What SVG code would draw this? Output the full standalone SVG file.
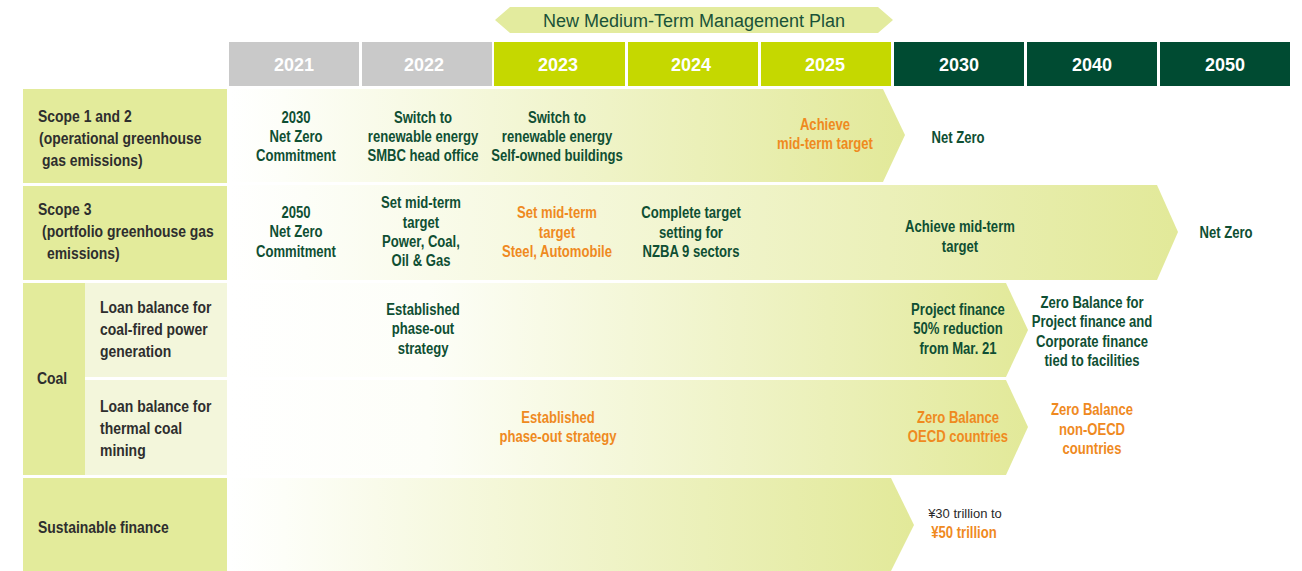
<svg xmlns="http://www.w3.org/2000/svg" width="1302" height="571" viewBox="0 0 1302 571">
<defs>
<linearGradient id="g1" x1="0" y1="0" x2="1" y2="0">
<stop offset="0" stop-color="#ffffff"/>
<stop offset="0.08" stop-color="#fdfef8"/>
<stop offset="1" stop-color="#e2e999"/>
</linearGradient>
<linearGradient id="g2" x1="0" y1="0" x2="1" y2="0">
<stop offset="0" stop-color="#ffffff"/>
<stop offset="0.25" stop-color="#fdfef8"/>
<stop offset="1" stop-color="#e2e999"/>
</linearGradient>
<style>
.t{font-family:"Liberation Sans",Arial,sans-serif;font-weight:bold;font-size:17px;text-anchor:middle;transform-box:fill-box;transform-origin:center;transform:scaleX(0.77)}
.g{fill:#0f4f33}
.o{fill:#ef8a1f}
.l{font-family:"Liberation Sans",Arial,sans-serif;font-weight:bold;font-size:17px;fill:#2e2e2e;transform-box:fill-box;transform-origin:left center;transform:scaleX(0.82)}
.yr{font-family:"Liberation Sans",Arial,sans-serif;font-weight:bold;font-size:18px;fill:#ffffff;text-anchor:middle}
.lab{fill:#e3eb9b}
.sub{fill:#f3f6db}
</style>
</defs>

<g id="banner">
<polygon points="495,20 510,7 878,7 893,20 878,33 510,33" fill="#e3eb9e"/>
<text x="694" y="27" style="font-family:'Liberation Sans',Arial,sans-serif;font-size:18px;fill:#1a5238;text-anchor:middle">New Medium-Term Management Plan</text>
</g>

<g id="years">
<rect x="229" y="42" width="130" height="44" fill="#c9c9c9"/>
<rect x="362" y="42" width="130" height="44" fill="#c9c9c9"/>
<rect x="494" y="42" width="131" height="44" fill="#c5d800"/>
<rect x="628" y="42" width="130" height="44" fill="#c5d800"/>
<rect x="761" y="42" width="130" height="44" fill="#c5d800"/>
<rect x="894" y="42" width="130" height="44" fill="#004b32"/>
<rect x="1027" y="42" width="130" height="44" fill="#004b32"/>
<rect x="1160" y="42" width="130" height="44" fill="#004b32"/>
<text class="yr" x="294" y="71">2021</text>
<text class="yr" x="424" y="71">2022</text>
<text class="yr" x="558" y="71">2023</text>
<text class="yr" x="691" y="71">2024</text>
<text class="yr" x="825" y="71">2025</text>
<text class="yr" x="959" y="71">2030</text>
<text class="yr" x="1092" y="71">2040</text>
<text class="yr" x="1225" y="71">2050</text>
</g>

<g id="connectors">
<polygon points="229,89 883,89 905,135 883,182 229,182" fill="url(#g1)"/>
<polygon points="229,185 1157,185 1178,232 1157,280 229,280" fill="url(#g1)"/>
<polygon points="229,283 1006,283 1028,330 1006,377 229,377" fill="url(#g2)"/>
<polygon points="229,380 1006,380 1028,427 1006,475 229,475" fill="url(#g2)"/>
<polygon points="229,478 891,478 914,525 891,571 229,571" fill="url(#g1)"/>
</g>

<g id="label-scope12">
<rect class="lab" x="23" y="89" width="204" height="94"/>
<text class="l" x="38" y="122">Scope 1 and 2</text>
<text class="l" x="39" y="144">(operational greenhouse</text>
<text class="l" x="42" y="166">gas emissions)</text>
</g>
<g id="label-scope3">
<rect class="lab" x="23" y="186" width="204" height="94"/>
<text class="l" x="38" y="215">Scope 3</text>
<text class="l" x="42" y="237">(portfolio greenhouse gas</text>
<text class="l" x="47" y="259">emissions)</text>
</g>
<g id="label-coal">
<rect class="lab" x="23" y="283" width="62" height="192"/>
<text class="l" x="37" y="384">Coal</text>
</g>
<g id="label-coal-power">
<rect class="sub" x="85" y="283" width="142" height="94"/>
<text class="l" x="100" y="313">Loan balance for</text>
<text class="l" x="100" y="335">coal-fired power</text>
<text class="l" x="100" y="357">generation</text>
</g>
<g id="label-coal-mining">
<rect class="sub" x="85" y="380" width="142" height="95"/>
<text class="l" x="100" y="412">Loan balance for</text>
<text class="l" x="100" y="434">thermal coal</text>
<text class="l" x="100" y="456">mining</text>
</g>
<g id="label-sustainable">
<rect class="lab" x="23" y="478" width="204" height="93"/>
<text class="l" x="38" y="533">Sustainable finance</text>
</g>

<g id="scope12-items">
<text class="t g" x="296" y="123">2030</text>
<text class="t g" x="296" y="142">Net Zero</text>
<text class="t g" x="296" y="161">Commitment</text>
<text class="t g" x="423" y="123">Switch to</text>
<text class="t g" x="423" y="142">renewable energy</text>
<text class="t g" x="423" y="161">SMBC head office</text>
<text class="t g" x="557" y="123">Switch to</text>
<text class="t g" x="557" y="142">renewable energy</text>
<text class="t g" x="557" y="161">Self-owned buildings</text>
<text class="t o" x="825" y="130">Achieve</text>
<text class="t o" x="825" y="149">mid-term target</text>
<text class="t g" x="958" y="143">Net Zero</text>
</g>

<g id="scope3-items">
<text class="t g" x="296" y="218">2050</text>
<text class="t g" x="296" y="237">Net Zero</text>
<text class="t g" x="296" y="257">Commitment</text>
<text class="t g" x="421" y="208">Set mid-term</text>
<text class="t g" x="421" y="228">target</text>
<text class="t g" x="421" y="247">Power, Coal,</text>
<text class="t g" x="421" y="266">Oil &amp; Gas</text>
<text class="t o" x="557" y="218">Set mid-term</text>
<text class="t o" x="557" y="238">target</text>
<text class="t o" x="557" y="257">Steel, Automobile</text>
<text class="t g" x="691" y="218">Complete target</text>
<text class="t g" x="691" y="238">setting for</text>
<text class="t g" x="691" y="257">NZBA 9 sectors</text>
<text class="t g" x="960" y="232">Achieve mid-term</text>
<text class="t g" x="960" y="252">target</text>
<text class="t g" x="1226" y="238">Net Zero</text>
</g>

<g id="coal-power-items">
<text class="t g" x="423" y="315">Established</text>
<text class="t g" x="423" y="334">phase-out</text>
<text class="t g" x="423" y="354">strategy</text>
<text class="t g" x="958" y="315">Project finance</text>
<text class="t g" x="958" y="334">50% reduction</text>
<text class="t g" x="958" y="354">from Mar. 21</text>
<text class="t g" x="1092" y="308">Zero Balance for</text>
<text class="t g" x="1092" y="327">Project finance and</text>
<text class="t g" x="1092" y="347">Corporate finance</text>
<text class="t g" x="1092" y="366">tied to facilities</text>
</g>

<g id="coal-mining-items">
<text class="t o" x="558" y="423">Established</text>
<text class="t o" x="558" y="442">phase-out strategy</text>
<text class="t o" x="958" y="423">Zero Balance</text>
<text class="t o" x="958" y="442">OECD countries</text>
<text class="t o" x="1092" y="415">Zero Balance</text>
<text class="t o" x="1092" y="435">non-OECD</text>
<text class="t o" x="1092" y="454">countries</text>
</g>

<g id="sustainable-items">
<text x="965" y="518" style="font-family:'Liberation Sans',Arial,sans-serif;font-size:13px;fill:#2a2a2a;text-anchor:middle">¥30 trillion to</text>
<text class="t o" x="964" y="538">¥50 trillion</text>
</g>
</svg>
